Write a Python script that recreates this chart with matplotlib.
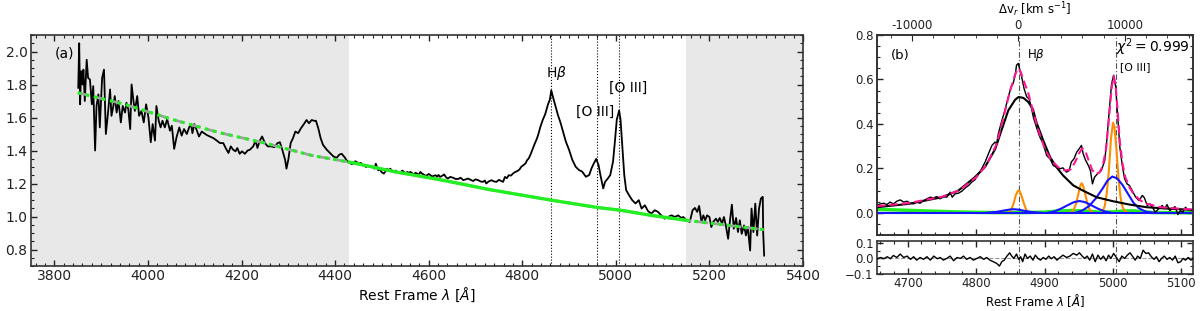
import numpy as np
import matplotlib
matplotlib.use("Agg")
import matplotlib.pyplot as plt
from matplotlib.ticker import MultipleLocator, FixedLocator, FixedFormatter

plt.rcParams['font.family'] = 'DejaVu Sans'
plt.rcParams['font.size'] = 10
plt.rcParams['mathtext.fontset'] = 'dejavusans'

# --- panel (a): full spectrum (wavelength, flux) ---
spec_a = [
    (3851, 1.78), (3853, 2.05), (3855, 1.68), (3857, 1.88), (3860, 1.80), (3862, 1.89),
    (3865, 1.70), (3869, 1.95), (3872, 1.84), (3876, 1.83), (3880, 1.68), (3883, 1.79),
    (3887, 1.40), (3890, 1.67), (3894, 1.74), (3897, 1.54), (3902, 1.84), (3906, 1.89),
    (3910, 1.50), (3915, 1.64), (3919, 1.77), (3922, 1.61), (3926, 1.67), (3929, 1.73),
    (3933, 1.63), (3937, 1.70), (3942, 1.57), (3946, 1.67), (3951, 1.63), (3954, 1.69),
    (3958, 1.65), (3962, 1.53), (3965, 1.80), (3969, 1.70), (3972, 1.64), (3977, 1.73),
    (3981, 1.61), (3986, 1.64), (3991, 1.57), (3996, 1.68), (4001, 1.60), (4006, 1.45),
    (4010, 1.56), (4015, 1.46), (4018, 1.67), (4023, 1.58), (4027, 1.54), (4031, 1.58),
    (4036, 1.54), (4041, 1.59), (4047, 1.52), (4051, 1.55), (4056, 1.41), (4061, 1.48),
    (4067, 1.54), (4072, 1.49), (4077, 1.53), (4083, 1.50), (4088, 1.54), (4092, 1.56),
    (4095, 1.505), (4099, 1.56), (4104, 1.525), (4109, 1.485), (4115, 1.515), (4120, 1.505),
    (4125, 1.495), (4132, 1.485), (4140, 1.475), (4147, 1.46), (4154, 1.445), (4161, 1.445),
    (4166, 1.415), (4172, 1.385), (4177, 1.425), (4182, 1.405), (4187, 1.395), (4191, 1.415),
    (4196, 1.38), (4201, 1.395), (4207, 1.38), (4213, 1.40), (4218, 1.405), (4225, 1.425),
    (4230, 1.46), (4234, 1.415), (4239, 1.46), (4244, 1.485), (4250, 1.445), (4256, 1.425),
    (4263, 1.425), (4270, 1.42), (4277, 1.445), (4282, 1.45), (4287, 1.405), (4293, 1.345),
    (4296, 1.29), (4300, 1.345), (4305, 1.445), (4310, 1.475), (4315, 1.515), (4321, 1.505),
    (4327, 1.535), (4332, 1.555), (4339, 1.585), (4344, 1.565), (4350, 1.585), (4355, 1.58),
    (4359, 1.58), (4364, 1.535), (4369, 1.475), (4374, 1.435), (4382, 1.405), (4389, 1.385),
    (4396, 1.365), (4403, 1.355), (4409, 1.375), (4414, 1.38), (4420, 1.36), (4426, 1.335),
    (4431, 1.325), (4435, 1.318), (4439, 1.32), (4443, 1.335), (4446, 1.33), (4451, 1.32),
    (4455, 1.325), (4458, 1.315), (4462, 1.31), (4466, 1.30), (4470, 1.308), (4473, 1.30),
    (4477, 1.305), (4480, 1.30), (4484, 1.29), (4487, 1.32), (4492, 1.28), (4496, 1.285),
    (4499, 1.27), (4504, 1.26), (4508, 1.275), (4511, 1.29), (4515, 1.28), (4518, 1.29),
    (4522, 1.275), (4525, 1.27), (4529, 1.278), (4533, 1.27), (4537, 1.262), (4540, 1.27),
    (4544, 1.278), (4547, 1.27), (4551, 1.262), (4554, 1.27), (4558, 1.265), (4561, 1.27),
    (4565, 1.262), (4568, 1.255), (4572, 1.265), (4575, 1.26), (4579, 1.252), (4582, 1.27),
    (4586, 1.26), (4589, 1.255), (4593, 1.248), (4597, 1.25), (4600, 1.258), (4604, 1.25),
    (4607, 1.242), (4611, 1.247), (4615, 1.25), (4618, 1.24), (4621, 1.252), (4624, 1.24),
    (4628, 1.245), (4633, 1.255), (4637, 1.238), (4641, 1.23), (4646, 1.24), (4652, 1.235),
    (4657, 1.228), (4663, 1.227), (4668, 1.235), (4674, 1.22), (4679, 1.225), (4684, 1.23),
    (4690, 1.222), (4695, 1.215), (4700, 1.225), (4706, 1.22), (4711, 1.212), (4716, 1.21),
    (4720, 1.218), (4723, 1.20), (4728, 1.212), (4734, 1.22), (4740, 1.212), (4745, 1.21),
    (4750, 1.222), (4755, 1.215), (4759, 1.21), (4763, 1.24), (4767, 1.232), (4771, 1.25),
    (4776, 1.248), (4780, 1.26), (4785, 1.27), (4790, 1.276), (4794, 1.285), (4798, 1.302),
    (4802, 1.31), (4807, 1.322), (4810, 1.34), (4814, 1.353), (4818, 1.378), (4821, 1.40),
    (4824, 1.422), (4827, 1.444), (4831, 1.47), (4834, 1.495), (4839, 1.546), (4844, 1.587),
    (4849, 1.62), (4855, 1.68), (4859, 1.709), (4862, 1.764), (4866, 1.72), (4871, 1.668),
    (4876, 1.617), (4882, 1.566), (4887, 1.515), (4893, 1.455), (4900, 1.404), (4907, 1.343),
    (4914, 1.302), (4921, 1.282), (4928, 1.272), (4936, 1.241), (4943, 1.251), (4948, 1.292),
    (4953, 1.322), (4958, 1.349), (4963, 1.312), (4967, 1.251), (4973, 1.17), (4977, 1.21),
    (4983, 1.231), (4988, 1.251), (4994, 1.333), (4998, 1.455), (5002, 1.587), (5007, 1.642),
    (5010, 1.587), (5014, 1.414), (5018, 1.251), (5022, 1.16), (5028, 1.13), (5035, 1.099),
    (5042, 1.079), (5049, 1.099), (5055, 1.048), (5062, 1.068), (5069, 1.032), (5076, 1.018),
    (5083, 1.038), (5090, 1.028), (5097, 1.007), (5104, 0.987), (5111, 0.997), (5119, 1.007),
    (5126, 0.997), (5133, 1.007), (5140, 0.991), (5144, 0.997), (5151, 0.977), (5158, 0.967),
    (5164, 1.038), (5169, 1.052), (5174, 1.028), (5178, 1.064), (5183, 0.967), (5187, 1.007),
    (5191, 0.977), (5195, 1.007), (5200, 0.997), (5204, 0.936), (5208, 0.967), (5214, 0.987),
    (5218, 0.967), (5222, 0.991), (5227, 0.957), (5231, 0.997), (5235, 0.946), (5240, 0.865),
    (5244, 0.977), (5248, 1.072), (5252, 0.926), (5257, 0.991), (5261, 0.906), (5265, 0.977),
    (5269, 0.895), (5274, 0.946), (5278, 0.885), (5282, 0.936), (5287, 0.794), (5290, 1.048),
    (5294, 0.906), (5298, 1.078), (5302, 0.885), (5306, 1.048), (5310, 1.109), (5314, 1.119),
    (5315, 0.895), (5317, 0.763),
]

# continuum model (power law + Fe II), read at a few wavelengths
cont_a = [
    (3850, 1.75), (3950, 1.68), (4050, 1.59), (4150, 1.51), (4250, 1.445), (4350, 1.37),
    (4430, 1.33), (4530, 1.27), (4630, 1.22), (4730, 1.163), (4860, 1.10), (4960, 1.055),
    (5010, 1.038), (5080, 1.005), (5150, 0.977), (5230, 0.95), (5317, 0.92),
]
fit_window = (4430, 5150)
lines_a = [4861, 4959, 5007]

# --- panel (b): continuum-subtracted Hbeta/[O III] region ---
spec_b = [
    (4655, 0.033), (4660, 0.040), (4665, 0.043), (4669.5, 0.037), (4674, 0.048), (4679, 0.040),
    (4684, 0.052), (4689, 0.058), (4694, 0.048), (4699, 0.052), (4703.6, 0.043), (4708.4, 0.040),
    (4713, 0.048), (4718, 0.043), (4723, 0.055), (4728, 0.063), (4733, 0.070), (4737.6, 0.067),
    (4742.5, 0.073), (4747, 0.063), (4752, 0.073), (4757, 0.070), (4762, 0.093), (4765, 0.070),
    (4769, 0.085), (4774, 0.088), (4779, 0.097), (4784, 0.112), (4789, 0.123), (4793.5, 0.138),
    (4798, 0.148), (4803, 0.172), (4808, 0.198), (4813, 0.228), (4818, 0.266), (4823, 0.303),
    (4827.6, 0.318), (4830, 0.311), (4832.4, 0.356), (4837, 0.409), (4842, 0.461), (4847, 0.521),
    (4851, 0.566), (4854, 0.581), (4857, 0.619), (4859, 0.664), (4861.6, 0.672), (4864, 0.641),
    (4866.5, 0.611), (4870, 0.559), (4874, 0.521), (4877, 0.514), (4880, 0.484), (4883.5, 0.431),
    (4888, 0.386), (4893, 0.341), (4898, 0.311), (4903, 0.258), (4908, 0.243), (4912.6, 0.213),
    (4917.5, 0.205), (4922, 0.198), (4927, 0.202), (4932, 0.183), (4936, 0.190), (4939, 0.228),
    (4943, 0.243), (4947, 0.273), (4950.6, 0.288), (4954, 0.303), (4956.4, 0.266), (4960, 0.236),
    (4964, 0.213), (4967, 0.190), (4970, 0.130), (4973, 0.160), (4978, 0.178), (4983, 0.190),
    (4988, 0.236), (4991, 0.326), (4995, 0.476), (4998, 0.581), (5001, 0.619), (5004, 0.566),
    (5007, 0.431), (5010, 0.296), (5014, 0.205), (5017, 0.153), (5020.6, 0.130), (5024, 0.123),
    (5028, 0.101), (5033, 0.071), (5038, 0.055), (5043, 0.078), (5046, 0.067), (5050, 0.033),
    (5054, 0.040), (5057.6, 0.025), (5062, 0.003), (5067, 0.018), (5072, 0.033), (5075.6, 0.018),
    (5079, 0.037), (5083, 0.010), (5087, 0.018), (5090.6, 0.028), (5095, -0.008), (5098.4, 0.010),
    (5102, 0.003), (5106, 0.025), (5109.6, 0.013), (5114.5, 0.010), (5117, 0.012),
]

total_b = [
    (4655, 0.030), (4700, 0.043), (4750, 0.072), (4775, 0.100), (4800, 0.160), (4815, 0.215),
    (4830, 0.310), (4840, 0.430), (4848, 0.530), (4855, 0.605), (4860, 0.645), (4862, 0.650),
    (4865, 0.635), (4870, 0.590), (4876, 0.540), (4882, 0.470), (4890, 0.380), (4900, 0.290),
    (4910, 0.235), (4920, 0.205), (4930, 0.190), (4938, 0.195), (4945, 0.230), (4950, 0.265),
    (4955, 0.290), (4960, 0.275), (4965, 0.230), (4970, 0.190), (4975, 0.175), (4980, 0.180),
    (4985, 0.210), (4990, 0.290), (4994, 0.420), (4998, 0.560), (5001, 0.615), (5004, 0.570),
    (5007, 0.450), (5010, 0.320), (5014, 0.220), (5018, 0.160), (5024, 0.115), (5030, 0.085),
    (5040, 0.055), (5050, 0.040), (5070, 0.025), (5090, 0.020), (5117, 0.015),
]

hb_broad = [
    (4655, 0.025), (4701, 0.040), (4750, 0.070), (4774, 0.100), (4798, 0.160), (4813, 0.206),
    (4828, 0.288), (4837, 0.371), (4847, 0.461), (4857, 0.509), (4862, 0.521), (4869, 0.517),
    (4876, 0.499), (4883, 0.466), (4888, 0.408), (4898, 0.326), (4908, 0.251), (4917.5, 0.205),
    (4927, 0.168), (4942, 0.123), (4956, 0.100), (4976, 0.070), (5000, 0.052), (5024, 0.037),
    (5049, 0.025), (5073, 0.020), (5117, 0.013),
]

narrow_hb = [
    (4848, 0.0), (4852, 0.02), (4855, 0.045), (4858, 0.08), (4861, 0.098), (4862, 0.101),
    (4864, 0.095), (4867, 0.07), (4870, 0.04), (4873, 0.015), (4876, 0.0),
]
narrow_o3_4959 = [
    (4938, 0.0), (4942, 0.012), (4946, 0.04), (4949, 0.08), (4952, 0.118), (4954, 0.133),
    (4956, 0.125), (4959, 0.09), (4962, 0.05), (4965, 0.02), (4969, 0.003), (4972, 0.0),
]
narrow_o3_5007 = [
    (4984, 0.0), (4988, 0.03), (4991, 0.09), (4994, 0.19), (4997, 0.33), (5000, 0.405),
    (5002, 0.39), (5005, 0.29), (5008, 0.16), (5011, 0.07), (5014, 0.025), (5018, 0.005),
    (5022, 0.0),
]

wing_hb = [
    (4815, 0.0), (4830, 0.004), (4840, 0.010), (4850, 0.015), (4855, 0.016), (4862, 0.014),
    (4872, 0.008), (4882, 0.003), (4895, 0.0),
]
wing_o3_4959 = [
    (4905, 0.0), (4915, 0.007), (4925, 0.02), (4935, 0.036), (4943, 0.048), (4951, 0.053),
    (4959, 0.048), (4967, 0.036), (4977, 0.02), (4987, 0.007), (4997, 0.0),
]
wing_o3_5007 = [
    (4945, 0.0), (4955, 0.01), (4965, 0.03), (4975, 0.065), (4985, 0.11), (4992, 0.145),
    (4999, 0.163), (5006, 0.155), (5014, 0.125), (5022, 0.085), (5030, 0.045), (5038, 0.02),
    (5048, 0.005), (5060, 0.0),
]

feii_b = [
    (4655, 0.015), (4680, 0.013), (4710, 0.010), (4740, 0.007), (4770, 0.004), (4800, 0.002),
    (4830, 0.001), (4870, 0.001), (4900, 0.003), (4920, 0.008), (4940, 0.010), (4960, 0.008),
    (4980, 0.003), (5000, 0.004), (5015, 0.008), (5030, 0.009), (5045, 0.004), (5060, 0.001),
    (5117, 0.0),
]

resid_b = [
    (4655, -0.004), (4660, 0.006), (4665, -0.002), (4670, 0.011), (4674.5, -0.002), (4679, 0.019),
    (4684, 0.006), (4689, 0.028), (4694, 0.006), (4699, 0.015), (4704, -0.006), (4708.5, 0.011),
    (4713, -0.011), (4718, 0.006), (4723, -0.006), (4728, 0.011), (4733, -0.011), (4738, 0.015),
    (4743, -0.002), (4747.5, 0.006), (4752, -0.011), (4757, 0.0), (4762, 0.015), (4767, -0.015),
    (4772, 0.006), (4777, 0.0), (4781.5, 0.015), (4786, -0.006), (4791, 0.006), (4796, -0.011),
    (4801, 0.0), (4806, 0.011), (4811, -0.006), (4815.5, 0.006), (4820, -0.011), (4825, -0.021),
    (4830, -0.032), (4834, -0.049), (4837.5, -0.021), (4841, -0.011), (4845, 0.015), (4849, 0.036),
    (4852, 0.015), (4855, 0.0), (4859, 0.028), (4862, -0.006), (4865, 0.011), (4868, -0.021),
    (4871.4, 0.028), (4875, 0.0), (4879, 0.015), (4883, -0.011), (4886.5, 0.021), (4890.4, 0.0),
    (4894, -0.011), (4898, 0.006), (4902, -0.006), (4906, 0.015), (4910, -0.002), (4914, 0.011),
    (4918, -0.011), (4922.5, 0.006), (4927, 0.021), (4932, 0.006), (4937, 0.015), (4942, 0.032),
    (4947, 0.021), (4951, 0.036), (4955, 0.015), (4958.5, 0.0), (4962.3, 0.015), (4966, -0.011),
    (4970, 0.028), (4974, -0.021), (4978, 0.021), (4982, -0.006), (4986, 0.015), (4990, -0.015),
    (4993.5, 0.021), (4997, 0.0), (5001, 0.032), (5005, 0.006), (5009, -0.021), (5013, 0.015),
    (5017, 0.0), (5021, 0.021), (5025, 0.036), (5029, 0.011), (5032.5, -0.011), (5036, 0.015),
    (5040, 0.0), (5044, 0.053), (5048, 0.032), (5052, 0.036), (5056, 0.011), (5060, -0.006),
    (5063.5, 0.011), (5067.4, -0.021), (5071, 0.0), (5075, 0.015), (5079, -0.006), (5083, 0.006),
    (5087, -0.011), (5091, 0.015), (5095, -0.028), (5099, -0.021), (5102.4, 0.0), (5106, -0.011),
    (5110, 0.006), (5114, -0.011), (5117, 0.0),
]
lines_b = [4862, 5004]
chi2 = 0.999
vel_ticks = [-10000, 0, 10000]

FS_B = 8.5  # right panel text is a bit smaller


def xy(pairs):
    a = np.array(pairs, dtype=float)
    return a[:, 0], a[:, 1]


def style_axes(ax, size):
    ax.tick_params(which='both', direction='in', top=True, right=True,
                   colors='#222222', labelsize=size, pad=2.5)
    ax.tick_params(which='major', length=4.5, width=1.0)
    ax.tick_params(which='minor', length=2.5, width=0.8)
    for s in ax.spines.values():
        s.set_linewidth(1.2)
        s.set_color('#333333')


fig = plt.figure(figsize=(12, 3.11), dpi=100)

# ---------------- panel (a) ----------------
ax1 = fig.add_axes([31 / 1200, 1 - 266 / 311, 772 / 1200, 231 / 311])
ax1.axvspan(3750, fit_window[0], color='#e8e8e8', zorder=0, lw=0)
ax1.axvspan(fit_window[1], 5400, color='#e8e8e8', zorder=0, lw=0)

w, f = xy(spec_a)
ax1.plot(w, f, color='black', lw=1.3, zorder=3)

cw, cf = xy(cont_a)
ax1.plot(cw, cf, color='#a0a0a0', lw=2.0, ls=(0, (4, 2)), zorder=4)
blue_side = cw <= fit_window[0]
red_side = cw >= fit_window[1]
mid = ~blue_side & ~red_side
mid_idx = np.where(mid)[0]
mid_idx = np.r_[mid_idx[0] - 1, mid_idx, mid_idx[-1] + 1]
ax1.plot(cw[blue_side], cf[blue_side], color='#22ee22', lw=2.2, ls=(0, (1.2, 1.5)), zorder=5)
ax1.plot(cw[red_side], cf[red_side], color='#22ee22', lw=2.2, ls=(0, (1.2, 1.5)), zorder=5)
ax1.plot(cw[mid_idx], cf[mid_idx], color='#22ee22', lw=2.4, zorder=5)

for lam in lines_a:
    ax1.axvline(lam, color='black', lw=0.8, ls=':', zorder=2)

ax1.text(4872, 1.87, r'H$\beta$', ha='center', va='center', fontsize=10)
ax1.text(4955, 1.635, '[O III]', ha='center', va='center', fontsize=10)
ax1.text(5026, 1.78, '[O III]', ha='center', va='center', fontsize=10)
ax1.text(3800, 1.99, '(a)', ha='left', va='center', fontsize=10)

ax1.set_xlim(3750, 5400)
ax1.set_ylim(0.7, 2.1)
ax1.xaxis.set_major_locator(MultipleLocator(200))
ax1.xaxis.set_minor_locator(MultipleLocator(20))
ax1.yaxis.set_major_locator(MultipleLocator(0.2))
ax1.yaxis.set_minor_locator(MultipleLocator(0.05))
ax1.set_xlabel(r'Rest Frame $\lambda$ [$\AA$]', labelpad=1.5)
style_axes(ax1, 10)

# ---------------- panel (b) ----------------
ax2 = fig.add_axes([877 / 1200, 1 - 235 / 311, 316 / 1200, 200 / 311])
ax3 = fig.add_axes([877 / 1200, 1 - 274 / 311, 316 / 1200, 33.5 / 311], sharex=ax2)

fw, ff = xy(feii_b)
ax2.plot(fw, ff, color='#22ee22', lw=2.5, zorder=2)
for comp in (narrow_hb, narrow_o3_4959, narrow_o3_5007):
    cx, cy = xy(comp)
    ax2.plot(cx, cy, color='#ff8c00', lw=1.5, zorder=3)
ax2.plot([4655, 5117], [0, 0], color='#1515ff', lw=1.5, zorder=4)
for comp in (wing_hb, wing_o3_4959, wing_o3_5007):
    cx, cy = xy(comp)
    ax2.plot(cx, cy, color='#1515ff', lw=1.5, zorder=4)
bx, by = xy(hb_broad)
ax2.plot(bx, by, color='black', lw=1.5, zorder=5)
sx, sy = xy(spec_b)
ax2.plot(sx, sy, color='black', lw=1.0, zorder=6)
tx, ty = xy(total_b)
ax2.plot(tx, ty, color='#ff1493', lw=1.5, ls=(0, (4, 2)), zorder=7)

for lam in lines_b:
    ax2.axvline(lam, color='#555555', lw=0.8, ls=(0, (5, 2, 1, 2)), zorder=1)
    ax3.axvline(lam, color='#555555', lw=0.8, ls=(0, (5, 2, 1, 2)), zorder=1)

ax2.text(4689, 0.71, '(b)', ha='center', va='center', fontsize=9.5)
ax2.text(4888, 0.71, r'H$\beta$', ha='center', va='center', fontsize=FS_B)
ax2.text(5113, 0.745, r'$\chi^2 = %.3f$' % chi2, ha='right', va='center', fontsize=10)
ax2.text(5010, 0.655, '[O III]', ha='left', va='center', fontsize=7.8)

ax2.set_xlim(4655, 5117)
ax2.set_ylim(-0.1, 0.8)
ax2.yaxis.set_major_locator(MultipleLocator(0.2))
ax2.yaxis.set_minor_locator(MultipleLocator(0.05))
ax2.xaxis.set_major_locator(MultipleLocator(100))
ax2.xaxis.set_minor_locator(MultipleLocator(20))
style_axes(ax2, FS_B)
ax2.tick_params(labelbottom=False, top=False)

# velocity axis on top
axv = ax2.twiny()
axv.set_xlim(-13271, 16401)
axv.xaxis.set_major_locator(FixedLocator(vel_ticks))
axv.xaxis.set_major_formatter(FixedFormatter(['-10000', '0', '10000']))
axv.xaxis.set_minor_locator(MultipleLocator(2000))
axv.tick_params(which='both', direction='in', colors='#222222', labelsize=FS_B, pad=2.0)
axv.tick_params(which='major', length=4.5)
axv.tick_params(which='minor', length=2.5)
axv.set_xlabel(r'$\Delta$v$_r$ [km s$^{-1}$]', labelpad=3.5, fontsize=FS_B)
for s in axv.spines.values():
    s.set_linewidth(1.2)
    s.set_color('#333333')

rx, ry = xy(resid_b)
ax3.plot(rx, ry, color='black', lw=1.0, zorder=3)
ax3.axhline(0, color='#999999', lw=0.8, ls='--', zorder=2)
ax3.set_ylim(-0.1, 0.115)
ax3.yaxis.set_major_locator(FixedLocator([-0.1, 0.0, 0.1]))
ax3.yaxis.set_major_formatter(FixedFormatter(['\u22120.1', '0.0', '0.1']))
ax3.yaxis.set_minor_locator(MultipleLocator(0.05))
ax3.set_xlabel(r'Rest Frame $\lambda$ [$\AA$]', labelpad=1.0, fontsize=FS_B)
style_axes(ax3, FS_B)

fig.savefig('out.png', dpi=100)
